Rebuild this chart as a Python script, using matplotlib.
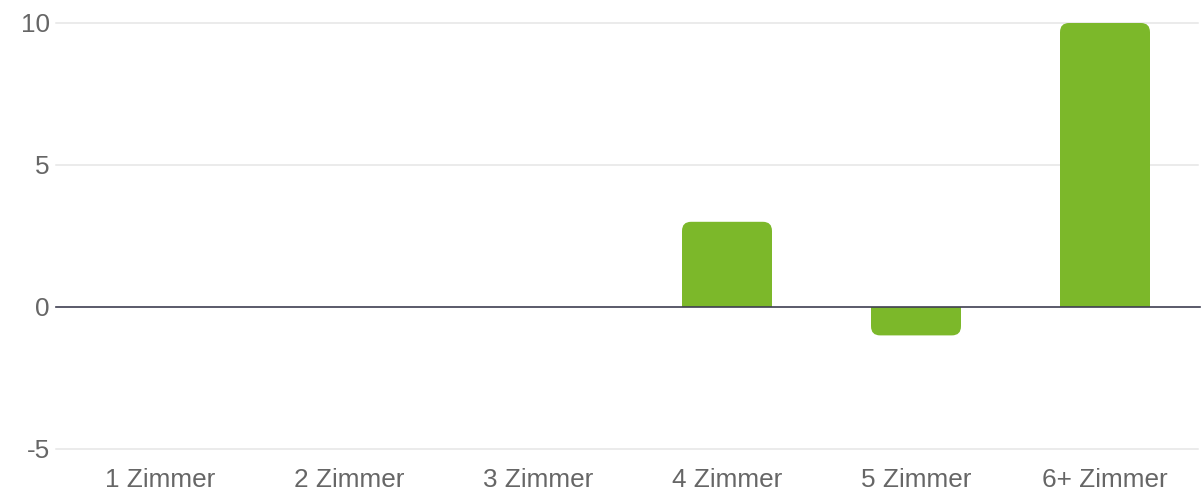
import matplotlib
matplotlib.use("Agg")
import matplotlib.pyplot as plt
import matplotlib.transforms as mtransforms
from matplotlib.patches import FancyBboxPatch, Rectangle

categories = ["1 Zimmer", "2 Zimmer", "3 Zimmer", "4 Zimmer", "5 Zimmer", "6+ Zimmer"]
values = [0, 0, 0, 3, -1, 10]
yticks = [-5, 0, 5, 10]

W, H = 1201, 492
fig = plt.figure(figsize=(W / 100, H / 100), dpi=100)
fig.patch.set_facecolor("white")
left, right, top, bottom = 65.5, 1199.5, 23, 449
ax = fig.add_axes([left / W, 1 - bottom / H, (right - left) / W, (bottom - top) / H])
ax.set_facecolor("white")

font = "Liberation Sans"
txt = "#666666"
grid = "#e6e6e6"
zero_c = "#3e3e50"
bar_color = "#7cb82a"
bw = 0.476
fs = 18.8

ax.set_xlim(-0.5, len(categories) - 0.5)
ax.set_ylim(-5, 10)
for s in ax.spines.values():
    s.set_visible(False)

ax.set_yticks(yticks)
ax.set_yticklabels([str(v) for v in yticks], fontfamily=font, fontsize=fs, color=txt)
ax.set_xticks(range(len(categories)))
ax.set_xticklabels(categories, fontfamily=font, fontsize=fs, color=txt)
ax.tick_params(axis="x", length=0, pad=14)
ax.tick_params(axis="y", length=0, pad=11.2)

# grid lines extending 10px left of the plot area
ax_w = right - left
trans = mtransforms.blended_transform_factory(ax.transAxes, ax.transData)
x_end = (1198 - left) / ax_w
for v in yticks:
    if v == 0:
        continue
    ax.plot([-10 / ax_w, x_end], [v, v], color=grid, lw=1.1, transform=trans,
            clip_on=False, zorder=1)
ax.plot([-10 / ax_w, 1.0], [0, 0], color=zero_c, lw=1.2, transform=trans,
        clip_on=False, zorder=4)

# pixel scales
px_x = (right - left) / len(categories)
px_y = (bottom - top) / 15.0
r_px = 9
aspect = px_x / px_y
r = r_px / px_x

for i, v in enumerate(values):
    if v == 0:
        continue
    x0 = i - bw / 2
    y0 = min(0, v)
    h = abs(v)
    box = FancyBboxPatch((x0, y0), bw, h,
                         boxstyle=f"round,pad=0,rounding_size={r}",
                         mutation_aspect=aspect, fc=bar_color, ec="none", zorder=3)
    ax.add_patch(box)
    rr = r * aspect
    if v > 0:
        ax.add_patch(Rectangle((x0, 0), bw, h - rr, fc=bar_color, ec="none", zorder=3))
    else:
        ax.add_patch(Rectangle((x0, v + rr), bw, h - rr, fc=bar_color, ec="none", zorder=3))

fig.savefig("out.png", dpi=100, facecolor="white")
